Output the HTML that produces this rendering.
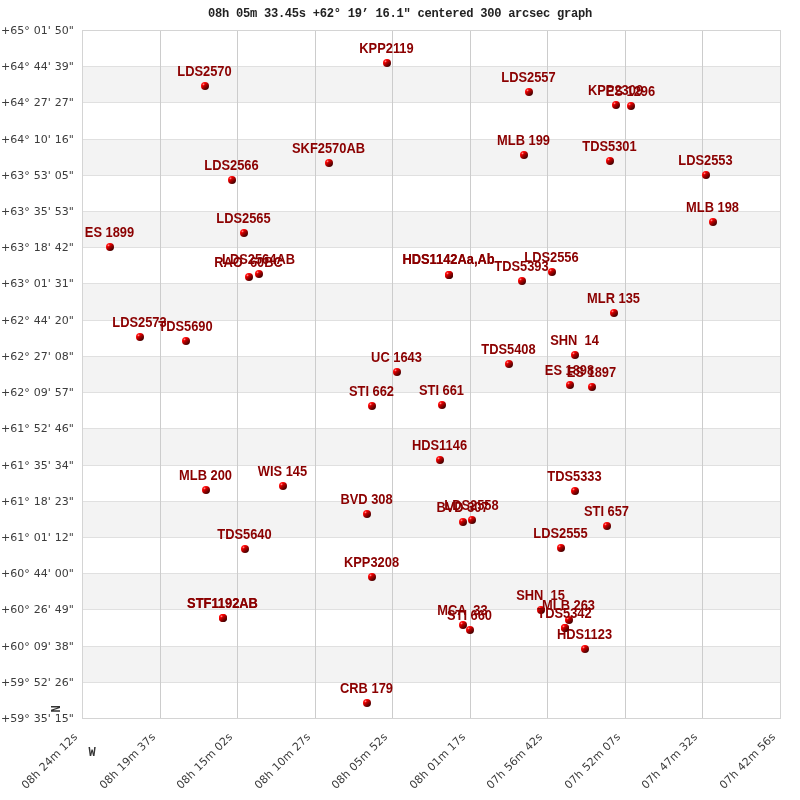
<!DOCTYPE html><html><head><meta charset="utf-8"><style>html,body{margin:0;padding:0;background:#fff;width:800px;height:800px;overflow:hidden}svg{will-change:transform}svg{display:block}.t{font-family:"Liberation Mono",monospace;font-weight:bold;font-size:12.1px;letter-spacing:-0.28px;fill:#222}.a{font-family:"DejaVu Sans",sans-serif;font-size:11px;fill:#3c3c3c;word-spacing:0.5px}.l{font-family:"Liberation Sans",Arial,sans-serif;font-weight:bold;font-size:14px;fill:#8b0000}</style></head><body>
<svg width="800" height="800" viewBox="0 0 800 800">
<defs><linearGradient id="g" x1="0.15" y1="0.1" x2="0.85" y2="0.9"><stop offset="0" stop-color="#ff1010"/><stop offset="0.2" stop-color="#ff0000"/><stop offset="0.4" stop-color="#c80000"/><stop offset="0.6" stop-color="#900000"/><stop offset="0.8" stop-color="#600000"/><stop offset="1" stop-color="#3a0000"/></linearGradient><radialGradient id="h" cx="0.5" cy="0.5" r="0.5"><stop offset="0" stop-color="#ffb0b0" stop-opacity="0.9"/><stop offset="1" stop-color="#ff6060" stop-opacity="0"/></radialGradient></defs>
<rect x="82" y="66" width="698" height="36" fill="#f3f3f3"/>
<rect x="82" y="139" width="698" height="36" fill="#f3f3f3"/>
<rect x="82" y="211" width="698" height="36" fill="#f3f3f3"/>
<rect x="82" y="283" width="698" height="37" fill="#f3f3f3"/>
<rect x="82" y="356" width="698" height="36" fill="#f3f3f3"/>
<rect x="82" y="428" width="698" height="37" fill="#f3f3f3"/>
<rect x="82" y="501" width="698" height="36" fill="#f3f3f3"/>
<rect x="82" y="573" width="698" height="36" fill="#f3f3f3"/>
<rect x="82" y="646" width="698" height="36" fill="#f3f3f3"/>
<rect x="82" y="66" width="699" height="1" fill="#e0e0e0"/>
<rect x="82" y="102" width="699" height="1" fill="#e0e0e0"/>
<rect x="82" y="139" width="699" height="1" fill="#e0e0e0"/>
<rect x="82" y="175" width="699" height="1" fill="#e0e0e0"/>
<rect x="82" y="211" width="699" height="1" fill="#e0e0e0"/>
<rect x="82" y="247" width="699" height="1" fill="#e0e0e0"/>
<rect x="82" y="283" width="699" height="1" fill="#e0e0e0"/>
<rect x="82" y="320" width="699" height="1" fill="#e0e0e0"/>
<rect x="82" y="356" width="699" height="1" fill="#e0e0e0"/>
<rect x="82" y="392" width="699" height="1" fill="#e0e0e0"/>
<rect x="82" y="428" width="699" height="1" fill="#e0e0e0"/>
<rect x="82" y="465" width="699" height="1" fill="#e0e0e0"/>
<rect x="82" y="501" width="699" height="1" fill="#e0e0e0"/>
<rect x="82" y="537" width="699" height="1" fill="#e0e0e0"/>
<rect x="82" y="573" width="699" height="1" fill="#e0e0e0"/>
<rect x="82" y="609" width="699" height="1" fill="#e0e0e0"/>
<rect x="82" y="646" width="699" height="1" fill="#e0e0e0"/>
<rect x="82" y="682" width="699" height="1" fill="#e0e0e0"/>
<rect x="160" y="30" width="1" height="689" fill="#cccccc"/>
<rect x="237" y="30" width="1" height="689" fill="#cccccc"/>
<rect x="315" y="30" width="1" height="689" fill="#cccccc"/>
<rect x="392" y="30" width="1" height="689" fill="#cccccc"/>
<rect x="470" y="30" width="1" height="689" fill="#cccccc"/>
<rect x="547" y="30" width="1" height="689" fill="#cccccc"/>
<rect x="625" y="30" width="1" height="689" fill="#cccccc"/>
<rect x="702" y="30" width="1" height="689" fill="#cccccc"/>
<rect x="82.5" y="30.5" width="698" height="688" fill="none" stroke="#d4d4d4" stroke-width="1"/>
<text class="t" x="400" y="17" text-anchor="middle">08h 05m 33.45s +62° 19’ 16.1" centered 300 arcsec graph</text>
<text class="a" x="73.8" y="33.80" text-anchor="end">+65° 01' 50&quot;</text>
<text class="a" x="73.8" y="69.80" text-anchor="end">+64° 44' 39&quot;</text>
<text class="a" x="73.8" y="105.80" text-anchor="end">+64° 27' 27&quot;</text>
<text class="a" x="73.8" y="142.80" text-anchor="end">+64° 10' 16&quot;</text>
<text class="a" x="73.8" y="178.80" text-anchor="end">+63° 53' 05&quot;</text>
<text class="a" x="73.8" y="214.80" text-anchor="end">+63° 35' 53&quot;</text>
<text class="a" x="73.8" y="250.80" text-anchor="end">+63° 18' 42&quot;</text>
<text class="a" x="73.8" y="286.80" text-anchor="end">+63° 01' 31&quot;</text>
<text class="a" x="73.8" y="323.80" text-anchor="end">+62° 44' 20&quot;</text>
<text class="a" x="73.8" y="359.80" text-anchor="end">+62° 27' 08&quot;</text>
<text class="a" x="73.8" y="395.80" text-anchor="end">+62° 09' 57&quot;</text>
<text class="a" x="73.8" y="431.80" text-anchor="end">+61° 52' 46&quot;</text>
<text class="a" x="73.8" y="468.80" text-anchor="end">+61° 35' 34&quot;</text>
<text class="a" x="73.8" y="504.80" text-anchor="end">+61° 18' 23&quot;</text>
<text class="a" x="73.8" y="540.80" text-anchor="end">+61° 01' 12&quot;</text>
<text class="a" x="73.8" y="576.80" text-anchor="end">+60° 44' 00&quot;</text>
<text class="a" x="73.8" y="612.80" text-anchor="end">+60° 26' 49&quot;</text>
<text class="a" x="73.8" y="649.80" text-anchor="end">+60° 09' 38&quot;</text>
<text class="a" x="73.8" y="685.80" text-anchor="end">+59° 52' 26&quot;</text>
<text class="a" x="73.8" y="721.80" text-anchor="end">+59° 35' 15&quot;</text>
<text class="a" x="0" y="0" text-anchor="end" transform="translate(78.00 737.50) rotate(-45)">08h 24m 12s</text>
<text class="a" x="0" y="0" text-anchor="end" transform="translate(156.00 737.50) rotate(-45)">08h 19m 37s</text>
<text class="a" x="0" y="0" text-anchor="end" transform="translate(233.00 737.50) rotate(-45)">08h 15m 02s</text>
<text class="a" x="0" y="0" text-anchor="end" transform="translate(311.00 737.50) rotate(-45)">08h 10m 27s</text>
<text class="a" x="0" y="0" text-anchor="end" transform="translate(388.00 737.50) rotate(-45)">08h 05m 52s</text>
<text class="a" x="0" y="0" text-anchor="end" transform="translate(466.00 737.50) rotate(-45)">08h 01m 17s</text>
<text class="a" x="0" y="0" text-anchor="end" transform="translate(543.00 737.50) rotate(-45)">07h 56m 42s</text>
<text class="a" x="0" y="0" text-anchor="end" transform="translate(621.00 737.50) rotate(-45)">07h 52m 07s</text>
<text class="a" x="0" y="0" text-anchor="end" transform="translate(698.00 737.50) rotate(-45)">07h 47m 32s</text>
<text class="a" x="0" y="0" text-anchor="end" transform="translate(776.00 737.50) rotate(-45)">07h 42m 56s</text>
<text x="0" y="0" transform="translate(60 712.5) rotate(-90)" style="font-family:'Liberation Mono',monospace;font-weight:bold;font-size:12px;fill:#333">N</text>
<text x="88.5" y="756" style="font-family:'Liberation Mono',monospace;font-weight:bold;font-size:12px;fill:#333">W</text>
<circle cx="387" cy="63" r="4" fill="url(#g)"/><circle cx="385.5" cy="61.3" r="1.6" fill="url(#h)"/>
<circle cx="205" cy="86" r="4" fill="url(#g)"/><circle cx="203.5" cy="84.3" r="1.6" fill="url(#h)"/>
<circle cx="529" cy="92" r="4" fill="url(#g)"/><circle cx="527.5" cy="90.3" r="1.6" fill="url(#h)"/>
<circle cx="616" cy="105" r="4" fill="url(#g)"/><circle cx="614.5" cy="103.3" r="1.6" fill="url(#h)"/>
<circle cx="631" cy="106" r="4" fill="url(#g)"/><circle cx="629.5" cy="104.3" r="1.6" fill="url(#h)"/>
<circle cx="524" cy="155" r="4" fill="url(#g)"/><circle cx="522.5" cy="153.3" r="1.6" fill="url(#h)"/>
<circle cx="610" cy="161" r="4" fill="url(#g)"/><circle cx="608.5" cy="159.3" r="1.6" fill="url(#h)"/>
<circle cx="706" cy="175" r="4" fill="url(#g)"/><circle cx="704.5" cy="173.3" r="1.6" fill="url(#h)"/>
<circle cx="329" cy="163" r="4" fill="url(#g)"/><circle cx="327.5" cy="161.3" r="1.6" fill="url(#h)"/>
<circle cx="232" cy="180" r="4" fill="url(#g)"/><circle cx="230.5" cy="178.3" r="1.6" fill="url(#h)"/>
<circle cx="713" cy="222" r="4" fill="url(#g)"/><circle cx="711.5" cy="220.3" r="1.6" fill="url(#h)"/>
<circle cx="244" cy="233" r="4" fill="url(#g)"/><circle cx="242.5" cy="231.3" r="1.6" fill="url(#h)"/>
<circle cx="110" cy="247" r="4" fill="url(#g)"/><circle cx="108.5" cy="245.3" r="1.6" fill="url(#h)"/>
<circle cx="249" cy="277" r="4" fill="url(#g)"/><circle cx="247.5" cy="275.3" r="1.6" fill="url(#h)"/>
<circle cx="259" cy="274" r="4" fill="url(#g)"/><circle cx="257.5" cy="272.3" r="1.6" fill="url(#h)"/>
<circle cx="449" cy="275" r="4" fill="url(#g)"/><circle cx="447.5" cy="273.3" r="1.6" fill="url(#h)"/>
<circle cx="449" cy="275" r="4" fill="url(#g)"/><circle cx="447.5" cy="273.3" r="1.6" fill="url(#h)"/>
<circle cx="522" cy="281" r="4" fill="url(#g)"/><circle cx="520.5" cy="279.3" r="1.6" fill="url(#h)"/>
<circle cx="552" cy="272" r="4" fill="url(#g)"/><circle cx="550.5" cy="270.3" r="1.6" fill="url(#h)"/>
<circle cx="614" cy="313" r="4" fill="url(#g)"/><circle cx="612.5" cy="311.3" r="1.6" fill="url(#h)"/>
<circle cx="140" cy="337" r="4" fill="url(#g)"/><circle cx="138.5" cy="335.3" r="1.6" fill="url(#h)"/>
<circle cx="186" cy="341" r="4" fill="url(#g)"/><circle cx="184.5" cy="339.3" r="1.6" fill="url(#h)"/>
<circle cx="575" cy="355" r="4" fill="url(#g)"/><circle cx="573.5" cy="353.3" r="1.6" fill="url(#h)"/>
<circle cx="509" cy="364" r="4" fill="url(#g)"/><circle cx="507.5" cy="362.3" r="1.6" fill="url(#h)"/>
<circle cx="397" cy="372" r="4" fill="url(#g)"/><circle cx="395.5" cy="370.3" r="1.6" fill="url(#h)"/>
<circle cx="570" cy="385" r="4" fill="url(#g)"/><circle cx="568.5" cy="383.3" r="1.6" fill="url(#h)"/>
<circle cx="592" cy="387" r="4" fill="url(#g)"/><circle cx="590.5" cy="385.3" r="1.6" fill="url(#h)"/>
<circle cx="372" cy="406" r="4" fill="url(#g)"/><circle cx="370.5" cy="404.3" r="1.6" fill="url(#h)"/>
<circle cx="442" cy="405" r="4" fill="url(#g)"/><circle cx="440.5" cy="403.3" r="1.6" fill="url(#h)"/>
<circle cx="440" cy="460" r="4" fill="url(#g)"/><circle cx="438.5" cy="458.3" r="1.6" fill="url(#h)"/>
<circle cx="206" cy="490" r="4" fill="url(#g)"/><circle cx="204.5" cy="488.3" r="1.6" fill="url(#h)"/>
<circle cx="283" cy="486" r="4" fill="url(#g)"/><circle cx="281.5" cy="484.3" r="1.6" fill="url(#h)"/>
<circle cx="575" cy="491" r="4" fill="url(#g)"/><circle cx="573.5" cy="489.3" r="1.6" fill="url(#h)"/>
<circle cx="367" cy="514" r="4" fill="url(#g)"/><circle cx="365.5" cy="512.3" r="1.6" fill="url(#h)"/>
<circle cx="463" cy="522" r="4" fill="url(#g)"/><circle cx="461.5" cy="520.3" r="1.6" fill="url(#h)"/>
<circle cx="472" cy="520" r="4" fill="url(#g)"/><circle cx="470.5" cy="518.3" r="1.6" fill="url(#h)"/>
<circle cx="607" cy="526" r="4" fill="url(#g)"/><circle cx="605.5" cy="524.3" r="1.6" fill="url(#h)"/>
<circle cx="561" cy="548" r="4" fill="url(#g)"/><circle cx="559.5" cy="546.3" r="1.6" fill="url(#h)"/>
<circle cx="245" cy="549" r="4" fill="url(#g)"/><circle cx="243.5" cy="547.3" r="1.6" fill="url(#h)"/>
<circle cx="372" cy="577" r="4" fill="url(#g)"/><circle cx="370.5" cy="575.3" r="1.6" fill="url(#h)"/>
<circle cx="223" cy="618" r="4" fill="url(#g)"/><circle cx="221.5" cy="616.3" r="1.6" fill="url(#h)"/>
<circle cx="223" cy="618" r="4" fill="url(#g)"/><circle cx="221.5" cy="616.3" r="1.6" fill="url(#h)"/>
<circle cx="541" cy="610" r="4" fill="url(#g)"/><circle cx="539.5" cy="608.3" r="1.6" fill="url(#h)"/>
<circle cx="569" cy="620" r="4" fill="url(#g)"/><circle cx="567.5" cy="618.3" r="1.6" fill="url(#h)"/>
<circle cx="565" cy="628" r="4" fill="url(#g)"/><circle cx="563.5" cy="626.3" r="1.6" fill="url(#h)"/>
<circle cx="463" cy="625" r="4" fill="url(#g)"/><circle cx="461.5" cy="623.3" r="1.6" fill="url(#h)"/>
<circle cx="470" cy="630" r="4" fill="url(#g)"/><circle cx="468.5" cy="628.3" r="1.6" fill="url(#h)"/>
<circle cx="585" cy="649" r="4" fill="url(#g)"/><circle cx="583.5" cy="647.3" r="1.6" fill="url(#h)"/>
<circle cx="367" cy="703" r="4" fill="url(#g)"/><circle cx="365.5" cy="701.3" r="1.6" fill="url(#h)"/>
<text class="l" text-anchor="middle" xml:space="preserve" transform="translate(386.5 53) scale(0.92 1)">KPP2119</text>
<text class="l" text-anchor="middle" xml:space="preserve" transform="translate(204.5 76) scale(0.92 1)">LDS2570</text>
<text class="l" text-anchor="middle" xml:space="preserve" transform="translate(528.5 82) scale(0.92 1)">LDS2557</text>
<text class="l" text-anchor="middle" xml:space="preserve" transform="translate(615.5 95) scale(0.92 1)">KPP2309</text>
<text class="l" text-anchor="middle" xml:space="preserve" transform="translate(630.5 96) scale(0.92 1)">ES 1296</text>
<text class="l" text-anchor="middle" xml:space="preserve" transform="translate(523.5 145) scale(0.92 1)">MLB 199</text>
<text class="l" text-anchor="middle" xml:space="preserve" transform="translate(609.5 151) scale(0.92 1)">TDS5301</text>
<text class="l" text-anchor="middle" xml:space="preserve" transform="translate(705.5 165) scale(0.92 1)">LDS2553</text>
<text class="l" text-anchor="middle" xml:space="preserve" transform="translate(328.5 153) scale(0.92 1)">SKF2570AB</text>
<text class="l" text-anchor="middle" xml:space="preserve" transform="translate(231.5 170) scale(0.92 1)">LDS2566</text>
<text class="l" text-anchor="middle" xml:space="preserve" transform="translate(712.5 212) scale(0.92 1)">MLB 198</text>
<text class="l" text-anchor="middle" xml:space="preserve" transform="translate(243.5 223) scale(0.92 1)">LDS2565</text>
<text class="l" text-anchor="middle" xml:space="preserve" transform="translate(109.5 237) scale(0.92 1)">ES 1899</text>
<text class="l" text-anchor="middle" xml:space="preserve" transform="translate(248.5 267) scale(0.92 1)">RAO  60BC</text>
<text class="l" text-anchor="middle" xml:space="preserve" transform="translate(258.5 264) scale(0.92 1)">LDS2564AB</text>
<text class="l" text-anchor="middle" xml:space="preserve" transform="translate(448.5 264) scale(0.92 1)">HDS1142Aa,Ab</text>
<text class="l" text-anchor="middle" xml:space="preserve" transform="translate(448.5 264) scale(0.92 1)">HDS1142Aa,Ab</text>
<text class="l" text-anchor="middle" xml:space="preserve" transform="translate(521.5 271) scale(0.92 1)">TDS5393</text>
<text class="l" text-anchor="middle" xml:space="preserve" transform="translate(551.5 262) scale(0.92 1)">LDS2556</text>
<text class="l" text-anchor="middle" xml:space="preserve" transform="translate(613.5 303) scale(0.92 1)">MLR 135</text>
<text class="l" text-anchor="middle" xml:space="preserve" transform="translate(139.5 327) scale(0.92 1)">LDS2573</text>
<text class="l" text-anchor="middle" xml:space="preserve" transform="translate(185.5 331) scale(0.92 1)">TDS5690</text>
<text class="l" text-anchor="middle" xml:space="preserve" transform="translate(574.5 345) scale(0.92 1)">SHN  14</text>
<text class="l" text-anchor="middle" xml:space="preserve" transform="translate(508.5 354) scale(0.92 1)">TDS5408</text>
<text class="l" text-anchor="middle" xml:space="preserve" transform="translate(396.5 362) scale(0.92 1)">UC 1643</text>
<text class="l" text-anchor="middle" xml:space="preserve" transform="translate(569.5 375) scale(0.92 1)">ES 1898</text>
<text class="l" text-anchor="middle" xml:space="preserve" transform="translate(591.5 377) scale(0.92 1)">ES 1897</text>
<text class="l" text-anchor="middle" xml:space="preserve" transform="translate(371.5 396) scale(0.92 1)">STI 662</text>
<text class="l" text-anchor="middle" xml:space="preserve" transform="translate(441.5 395) scale(0.92 1)">STI 661</text>
<text class="l" text-anchor="middle" xml:space="preserve" transform="translate(439.5 450) scale(0.92 1)">HDS1146</text>
<text class="l" text-anchor="middle" xml:space="preserve" transform="translate(205.5 480) scale(0.92 1)">MLB 200</text>
<text class="l" text-anchor="middle" xml:space="preserve" transform="translate(282.5 476) scale(0.92 1)">WIS 145</text>
<text class="l" text-anchor="middle" xml:space="preserve" transform="translate(574.5 481) scale(0.92 1)">TDS5333</text>
<text class="l" text-anchor="middle" xml:space="preserve" transform="translate(366.5 504) scale(0.92 1)">BVD 308</text>
<text class="l" text-anchor="middle" xml:space="preserve" transform="translate(462.5 512) scale(0.92 1)">BVD 307</text>
<text class="l" text-anchor="middle" xml:space="preserve" transform="translate(471.5 510) scale(0.92 1)">LDS2558</text>
<text class="l" text-anchor="middle" xml:space="preserve" transform="translate(606.5 516) scale(0.92 1)">STI 657</text>
<text class="l" text-anchor="middle" xml:space="preserve" transform="translate(560.5 538) scale(0.92 1)">LDS2555</text>
<text class="l" text-anchor="middle" xml:space="preserve" transform="translate(244.5 539) scale(0.92 1)">TDS5640</text>
<text class="l" text-anchor="middle" xml:space="preserve" transform="translate(371.5 567) scale(0.92 1)">KPP3208</text>
<text class="l" text-anchor="middle" xml:space="preserve" transform="translate(222.5 608) scale(0.92 1)">STF1192AB</text>
<text class="l" text-anchor="middle" xml:space="preserve" transform="translate(222.5 608) scale(0.92 1)">STF1192AB</text>
<text class="l" text-anchor="middle" xml:space="preserve" transform="translate(540.5 600) scale(0.92 1)">SHN  15</text>
<text class="l" text-anchor="middle" xml:space="preserve" transform="translate(568.5 610) scale(0.92 1)">MLB 263</text>
<text class="l" text-anchor="middle" xml:space="preserve" transform="translate(564.5 618) scale(0.92 1)">TDS5342</text>
<text class="l" text-anchor="middle" xml:space="preserve" transform="translate(462.5 615) scale(0.92 1)">MCA  33</text>
<text class="l" text-anchor="middle" xml:space="preserve" transform="translate(469.5 620) scale(0.92 1)">STI 660</text>
<text class="l" text-anchor="middle" xml:space="preserve" transform="translate(584.5 639) scale(0.92 1)">HDS1123</text>
<text class="l" text-anchor="middle" xml:space="preserve" transform="translate(366.5 693) scale(0.92 1)">CRB 179</text>
<circle cx="565" cy="628" r="4" fill="url(#g)"/><circle cx="563.5" cy="626.3" r="1.6" fill="url(#h)"/>
</svg></body></html>
